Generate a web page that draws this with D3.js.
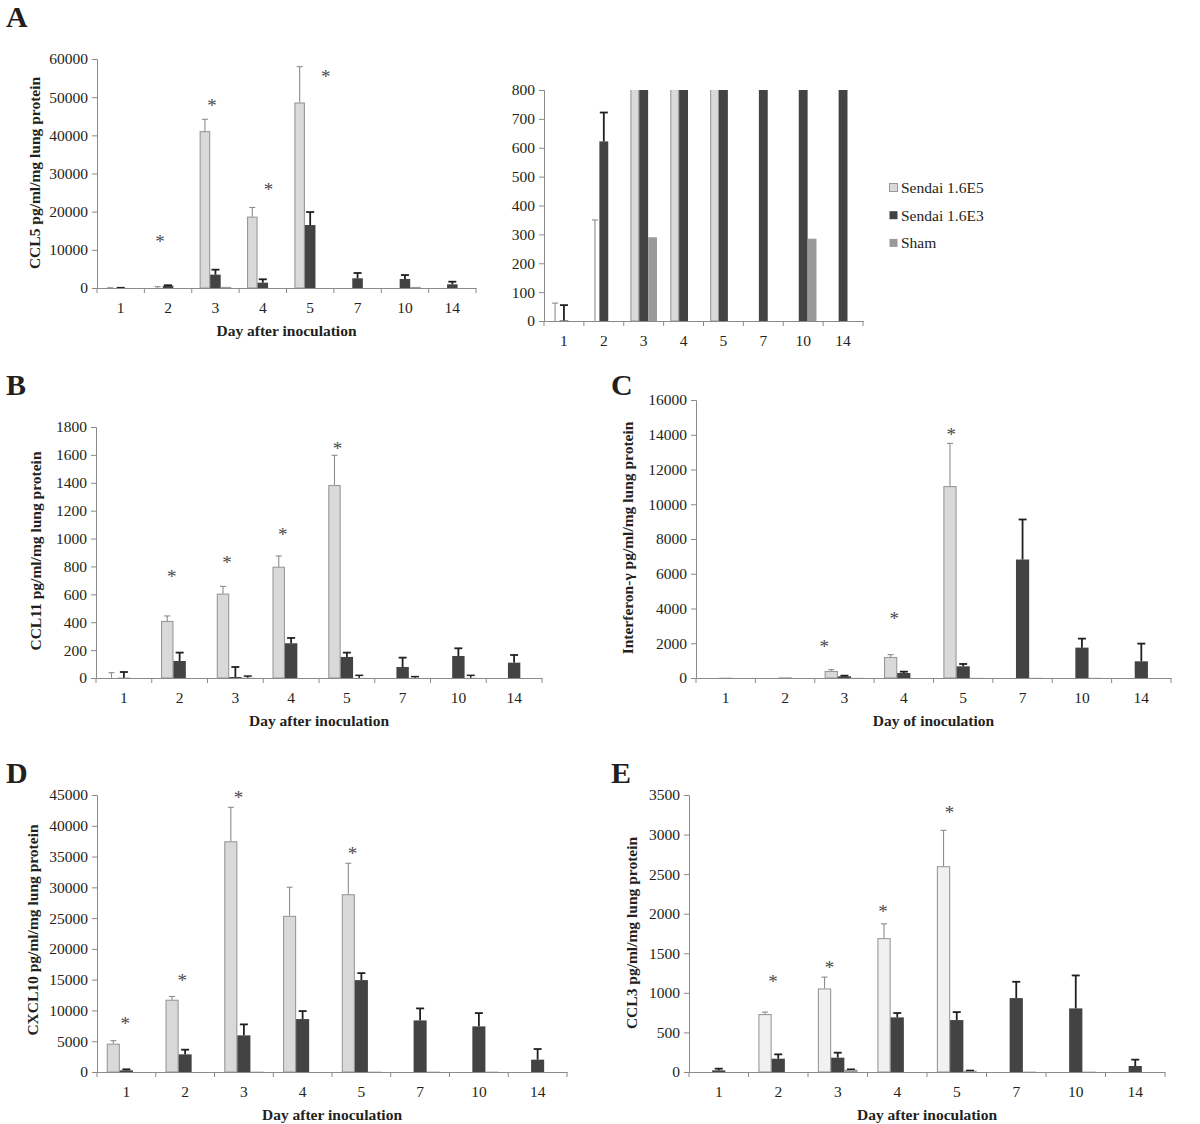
<!DOCTYPE html>
<html><head><meta charset="utf-8">
<script src="https://cdn.jsdelivr.net/npm/d3@7"></script>
<style>
body{margin:0;background:#fff}
svg{display:block}
text{font-family:"Liberation Serif","Times New Roman",serif;fill:#231f20}
</style>
</head><body>
<svg id="fig" width="1200" height="1124"></svg>
<script>
// ---------------- DATA ----------------
const days = ['1','2','3','4','5','7','10','14'];
const seriesNames = ['Sendai 1.6E5','Sendai 1.6E3','Sham'];

// A: CCL5
const ccl5E5     = [0, 0, 41100, 18700, 48600, 0, 0, 0];
const ccl5E5Top  = [62, 350, 44200, 21100, 58000, 0, 0, 0];
const ccl5E3     = [2, 622, 3500, 1400, 16500, 2540, 2360, 970];
const ccl5E3Top  = [55, 722, 4800, 2280, 19900, 3930, 3400, 1650];
const ccl5Sham   = [0, 0, 290, 0, 0, 0, 285, 0];
const ccl5ShamTop= [0, 0, 290, 0, 0, 0, 285, 0];
const ccl5Stars  = [{day:'2',v:13100,at:0.33},{day:'3',v:48700,at:0.43},{day:'4',v:26700,at:0.62},{day:'5',v:56300,at:0.83}];
const ccl5Ticks  = [0,10000,20000,30000,40000,50000,60000];
const insetTicks = [0,100,200,300,400,500,600,700,800];

// B: CCL11
const ccl11E5     = [2, 409, 605, 798, 1384, 0, 0, 0];
const ccl11E5Top  = [38, 445, 657, 875, 1597, 0, 0, 0];
const ccl11E3     = [2, 122, 7, 249, 151, 79, 158, 110];
const ccl11E3Top  = [43, 182, 79, 287, 182, 146, 213, 165];
const ccl11Sham   = [0, 0, 2, 0, 1, 1, 1, 0];
const ccl11ShamTop= [0, 0, 14, 0, 19, 10, 19, 0];
const ccl11Stars  = [{day:'2',v:748,at:0.36},{day:'3',v:849,at:0.35},{day:'4',v:1052,at:0.35},{day:'5',v:1664,at:0.33}];
const ccl11Ticks  = [0,200,400,600,800,1000,1200,1400,1600,1800];

// C: Interferon-gamma
const ifnE5     = [8, 8, 403, 1210, 11045, 0, 0, 0];
const ifnE5Top  = [8, 8, 480, 1345, 13504, 0, 0, 0];
const ifnE3     = [10, 20, 96, 288, 672, 6819, 1748, 960];
const ifnE3Top  = [10, 20, 134, 365, 807, 9124, 2267, 1978];
const ifnSham   = [0, 0, 10, 0, 10, 10, 10, 0];
const ifnShamTop= [0, 0, 10, 0, 10, 10, 10, 0];
const ifnStars  = [{day:'3',v:1978,at:0.16},{day:'4',v:3592,at:0.34},{day:'5',v:14214,at:0.30}];
const ifnTicks  = [0,2000,4000,6000,8000,10000,12000,14000,16000];

// D: CXCL10
const cxcl10E5     = [4597, 11737, 37482, 25366, 28882, 0, 0, 0];
const cxcl10E5Top  = [5084, 12278, 42999, 30018, 33912, 0, 0, 0];
const cxcl10E3     = [270, 2867, 5949, 8600, 14928, 8383, 7410, 2001];
const cxcl10E3Top  = [433, 3624, 7734, 9898, 16064, 10330, 9573, 3732];
const cxcl10Sham   = [0, 0, 60, 0, 60, 60, 60, 0];
const cxcl10ShamTop= [0, 0, 60, 0, 60, 60, 60, 0];
const cxcl10Stars  = [{day:'1',v:8383,at:0.48},{day:'2',v:15306,at:0.45},{day:'3',v:45162,at:0.41},{day:'5',v:35913,at:0.35}];
const cxcl10Ticks  = [0,5000,10000,15000,20000,25000,30000,35000,40000,45000];

// E: CCL3
const ccl3E5     = [3, 732, 1056, 1691, 2600, 0, 0, 0];
const ccl3E5Top  = [3, 757, 1199, 1872, 3054, 0, 0, 0];
const ccl3E3     = [21, 168, 181, 690, 656, 934, 804, 76];
const ccl3E3Top  = [42, 223, 244, 745, 757, 1140, 1220, 156];
const ccl3Sham   = [0, 0, 29, 0, 17, 5, 5, 0];
const ccl3ShamTop= [0, 0, 35, 0, 20, 5, 5, 0];
const ccl3Stars  = [{day:'2',v:1178,at:0.41},{day:'3',v:1355,at:0.36},{day:'4',v:2070,at:0.26},{day:'5',v:3319,at:0.38}];
const ccl3Ticks  = [0,500,1000,1500,2000,2500,3000,3500];

// ---------------- DRAWING ----------------
const svg = d3.select('#fig');
const AXIS = '#8a8a8a', DARK = '#434343', SHAM = '#9a9a9a', LIGHT = '#d9d9d9', LIGHT_STROKE = '#999999';
let clipId = 0;

function panel(cfg, e5, e5Top, e3, e3Top, sham, shamTop, ticks, stars){
  const g = svg.append('g');
  const x = d3.scaleBand().domain(days).range([cfg.x0, cfg.x1]).paddingInner(0).paddingOuter(0);
  const bw = x.bandwidth();
  const sub = d3.scaleBand().domain([0,1,2]).range([bw/6, bw*5/6]).paddingInner(0);
  const y = d3.scaleLinear().domain([0, d3.max(ticks)]).range([cfg.y0, cfg.yTop]);

  let barG = g.append('g');
  if (cfg.clip){
    const id = 'clip' + (clipId++);
    svg.append('clipPath').attr('id', id).append('rect')
      .attr('x', cfg.x0).attr('y', cfg.yTop).attr('width', cfg.x1 - cfg.x0).attr('height', cfg.y0 - cfg.yTop);
    barG.attr('clip-path', `url(#${id})`);
  }
  const series = [
    {vals:e5, tops:e5Top, fill:cfg.lightFill || LIGHT, stroke:LIGHT_STROKE, err:'#8c8c8c', ew:1.1, cap:3},
    {vals:e3, tops:e3Top, fill:DARK, stroke:null, err:'#231f20', ew:1.8, cap:4},
    {vals:sham, tops:shamTop, fill:SHAM, stroke:null, err:'#231f20', ew:1.5, cap:4}
  ];
  series.forEach((s, si) => {
    days.forEach((d, di) => {
      const v = s.vals[di], t = s.tops[di];
      const bx = x(d) + sub(si), w = sub.bandwidth();
      const yy = y(v);
      if (v > 0){
        const r = barG.append('rect').attr('fill', s.fill);
        if (s.stroke){
          r.attr('x', bx + 0.5).attr('y', yy + 0.5).attr('width', w - 1).attr('height', Math.max(0, cfg.y0 - yy - 0.5))
           .attr('stroke', s.stroke).attr('stroke-width', 1.1);
        } else {
          r.attr('x', bx).attr('y', yy).attr('width', w).attr('height', cfg.y0 - yy);
        }
      }
      if (t > v){
        const cx = bx + w/2;
        barG.append('line').attr('x1', cx).attr('x2', cx).attr('y1', yy).attr('y2', y(t))
          .attr('stroke', s.err).attr('stroke-width', s.ew);
        barG.append('line').attr('x1', cx - s.cap).attr('x2', cx + s.cap).attr('y1', y(t)).attr('y2', y(t))
          .attr('stroke', s.err).attr('stroke-width', s.ew);
      }
    });
  });

  // y axis
  const ya = g.append('g').attr('transform', `translate(${cfg.x0},0)`)
    .call(d3.axisLeft(y).tickValues(ticks).tickSize(5).tickPadding(4).tickFormat(d3.format('d')));
  ya.select('.domain').attr('stroke', AXIS);
  ya.selectAll('.tick line').attr('stroke', AXIS);
  ya.selectAll('.tick text').attr('font-size', 15.5).style('font-family', '"Liberation Serif",serif').attr('fill', '#231f20');

  // x axis: line, ticks at band boundaries, labels at centres
  const xa = g.append('g').attr('transform', `translate(0,${cfg.y0})`)
    .call(d3.axisBottom(x).tickSize(0).tickPadding(14));
  xa.select('.domain').attr('stroke', AXIS);
  xa.selectAll('.tick text').attr('font-size', 15.5).style('font-family', '"Liberation Serif",serif').attr('fill', '#231f20');
  const bounds = days.map(d => x(d)).concat([x(days[days.length-1]) + bw]);
  xa.selectAll('line.bt').data(bounds).join('line').attr('class','bt')
    .attr('x1', d => d).attr('x2', d => d).attr('y1', 0).attr('y2', 5).attr('stroke', AXIS);

  if (cfg.title){
    g.append('text').attr('x', (cfg.x0 + cfg.x1)/2).attr('y', cfg.y0 + 48)
      .attr('text-anchor','middle').attr('font-weight','bold').attr('font-size', 15.5).text(cfg.title);
  }
  if (cfg.yTitle){
    g.append('text').attr('transform', `translate(${cfg.yTitleX},${cfg.yTitleY}) rotate(-90)`)
      .attr('text-anchor','middle').attr('font-weight','bold').attr('font-size', 15.5).text(cfg.yTitle);
  }
  if (stars){
    g.selectAll('text.star').data(stars).join('text').attr('class','star')
      .attr('x', d => x(d.day) + d.at * bw).attr('y', d => y(d.v)).attr('dy','0.5em')
      .attr('text-anchor','middle').attr('font-size', 19).style('fill', '#4a4a4a').text('*');
  }
}

panel({x0:97, x1:476, yTop:59, y0:288, title:'Day after inoculation', yTitle:'CCL5 pg/ml/mg lung protein', yTitleX:40, yTitleY:173},
  ccl5E5, ccl5E5Top, ccl5E3, ccl5E3Top, ccl5Sham, ccl5ShamTop, ccl5Ticks, ccl5Stars);
panel({x0:544, x1:863, yTop:90, y0:321, clip:true},
  ccl5E5, ccl5E5Top, ccl5E3, ccl5E3Top, ccl5Sham, ccl5ShamTop, insetTicks, null);
panel({x0:96, x1:542, yTop:427, y0:678, title:'Day after inoculation', yTitle:'CCL11 pg/ml/mg lung protein', yTitleX:41, yTitleY:551},
  ccl11E5, ccl11E5Top, ccl11E3, ccl11E3Top, ccl11Sham, ccl11ShamTop, ccl11Ticks, ccl11Stars);
panel({x0:696, x1:1171, yTop:400, y0:678, title:'Day of inoculation', yTitle:'Interferon-\u03B3  pg/ml/mg lung protein', yTitleX:633, yTitleY:538},
  ifnE5, ifnE5Top, ifnE3, ifnE3Top, ifnSham, ifnShamTop, ifnTicks, ifnStars);
panel({x0:97, x1:567, yTop:795, y0:1072, title:'Day after inoculation', yTitle:'CXCL10 pg/ml/mg lung protein', yTitleX:38, yTitleY:930},
  cxcl10E5, cxcl10E5Top, cxcl10E3, cxcl10E3Top, cxcl10Sham, cxcl10ShamTop, cxcl10Ticks, cxcl10Stars);
panel({x0:689, x1:1165, yTop:795, y0:1072, title:'Day after inoculation', yTitle:'CCL3 pg/ml/mg lung protein', yTitleX:637, yTitleY:933, lightFill:'#f1f1f1'},
  ccl3E5, ccl3E5Top, ccl3E3, ccl3E3Top, ccl3Sham, ccl3ShamTop, ccl3Ticks, ccl3Stars);

// legend
const lg = svg.append('g');
const legColors = [[LIGHT, LIGHT_STROKE],[DARK, null],[SHAM, null]];
seriesNames.forEach((n, i) => {
  const yy = 188 + i*27.7;
  lg.append('rect').attr('x', 889.5).attr('y', yy - 4.5).attr('width', 8).attr('height', 8)
    .attr('fill', legColors[i][0]).attr('stroke', legColors[i][1] || 'none');
  lg.append('text').attr('x', 901).attr('y', yy + 5).attr('font-size', 15.5).text(n);
});

// panel letters
[['A',6,27],['B',6,395],['C',611,395],['D',6,783],['E',611,783]].forEach(p => {
  svg.append('text').attr('x', p[1]).attr('y', p[2]).attr('font-size', 30).attr('font-weight','bold').text(p[0]);
});
</script>
</body></html>
